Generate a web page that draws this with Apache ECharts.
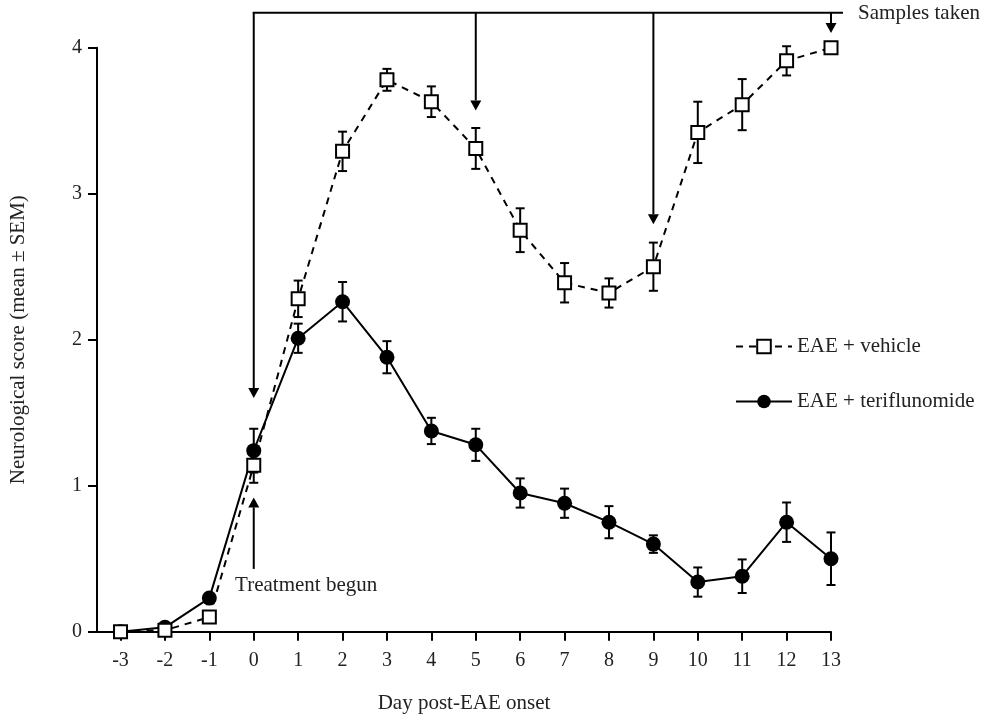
<!DOCTYPE html>
<html>
<head>
<meta charset="utf-8">
<script src="https://cdn.jsdelivr.net/npm/echarts@6/dist/echarts.min.js"></script>
<style>html,body{margin:0;padding:0;background:#fff}#c{width:992px;height:721px}</style>
</head>
<body>
<div id="c"></div>
<script>
// ---- data ----
const days = [-3,-2,-1,0,1,2,3,4,5,6,7,8,9,10,11,12,13];
const vehicleMean = [0, 0.01, 0.10, 1.14, 2.28, 3.29, 3.78, 3.63, 3.31, 2.75, 2.39, 2.32, 2.50, 3.42, 3.61, 3.91, 4.00];
const vehicleSEM  = [0, 0, 0, 0.12, 0.125, 0.135, 0.075, 0.105, 0.14, 0.15, 0.135, 0.10, 0.165, 0.21, 0.175, 0.10, 0];
const teriMean    = [0, 0.03, 0.23, 1.24, 2.01, 2.26, 1.88, 1.375, 1.28, 0.95, 0.88, 0.75, 0.60, 0.34, 0.38, 0.75, 0.50];
const teriSEM     = [0, 0, 0.03, 0.15, 0.10, 0.135, 0.11, 0.09, 0.11, 0.10, 0.10, 0.11, 0.06, 0.10, 0.115, 0.135, 0.18];
const yTicks = [0, 1, 2, 3, 4];
const seriesNames = ['EAE + vehicle', 'EAE + teriflunomide'];
// annotations (data units)
const bracketLevel = 4.24;
const bracketEndDay = 13.27;
const sampleDays = [0, 5, 9, 13];
const sampleArrowTips = [1.6, 3.57, 2.79, 4.1];
const treatmentDay = 0;
const treatmentArrow = [0.43, 0.92];
const samplesLabel = 'Samples taken';
const samplesLabelPos = [13.61, 4.235];
const treatmentLabel = 'Treatment begun';
const treatmentLabelPos = [-0.42, 0.315];

const FONT = '"Liberation Serif", "Times New Roman", serif';
const chart = echarts.init(document.getElementById('c'), null, {renderer: 'canvas'});

function errData(mean, sem) { return days.map((d, i) => [d, mean[i], sem[i]]); }

function renderErr(params, api) {
  const sem = api.value(2);
  if (!(sem > 0)) return null;
  const x = api.value(0), y = api.value(1);
  const top = api.coord([x, y + sem]);
  const bot = api.coord([x, y - sem]);
  const hw = 4.5;
  const st = {stroke: '#000', lineWidth: 2};
  return {type: 'group', children: [
    {type: 'line', shape: {x1: top[0], y1: top[1], x2: bot[0], y2: bot[1]}, style: st},
    {type: 'line', shape: {x1: top[0]-hw, y1: top[1], x2: top[0]+hw, y2: top[1]}, style: st},
    {type: 'line', shape: {x1: bot[0]-hw, y1: bot[1], x2: bot[0]+hw, y2: bot[1]}, style: st}
  ]};
}

const arrowData = sampleDays.map((d, i) => [d, bracketLevel, sampleArrowTips[i]])
  .concat([[treatmentDay, treatmentArrow[0], treatmentArrow[1]]]);

function renderArrow(params, api) {
  const x = api.value(0), y0 = api.value(1), y1 = api.value(2);
  const p0 = api.coord([x, y0]);
  const p1 = api.coord([x, y1]);
  const dir = p1[1] > p0[1] ? 1 : -1;
  const headL = 10, headW = 5.5;
  const baseY = p1[1] - dir * headL;
  return {type: 'group', children: [
    {type: 'line', shape: {x1: p0[0], y1: p0[1], x2: p1[0], y2: baseY}, style: {stroke: '#000', lineWidth: 2}},
    {type: 'polygon', shape: {points: [[p1[0], p1[1]], [p1[0]-headW, baseY], [p1[0]+headW, baseY]]}, style: {fill: '#000'}}
  ]};
}

function renderBracket(params, api) {
  const a = api.coord([api.value(0), api.value(2)]);
  const b = api.coord([api.value(1), api.value(2)]);
  return {type: 'line', shape: {x1: a[0]-1, y1: a[1], x2: b[0], y2: b[1]}, style: {stroke: '#000', lineWidth: 2}};
}

const textData = [
  [samplesLabelPos[0], samplesLabelPos[1], samplesLabel],
  [treatmentLabelPos[0], treatmentLabelPos[1], treatmentLabel]
];
function renderText(params, api) {
  const p = api.coord([api.value(0), api.value(1)]);
  return {type: 'text', x: p[0], y: p[1], style: {
    text: textData[params.dataIndex][2], fill: '#222', font: '21px ' + FONT,
    textAlign: 'left', textVerticalAlign: 'middle'
  }};
}

const option = {
  backgroundColor: '#fff',
  animation: false,
  textStyle: {fontFamily: FONT},
  grid: {left: 91, right: 161, top: 47.7, bottom: 89.3, containLabel: false},
  legend: {
    data: seriesNames,
    orient: 'vertical',
    left: 730, top: 331,
    itemWidth: 56, itemHeight: 17, itemGap: 34,
    textStyle: {fontFamily: FONT, fontSize: 21, color: '#222', padding: [0, 0, 0, 0]},
    selectedMode: false
  },
  xAxis: {
    type: 'value', min: -3.53, max: 13,
    name: 'Day post-EAE onset', nameLocation: 'middle', nameGap: 61,
    nameTextStyle: {fontFamily: FONT, fontSize: 21, color: '#222'},
    axisLine: {onZero: false, lineStyle: {color: '#000', width: 2}},
    axisTick: {show: true, customValues: days, length: 9, lineStyle: {color: '#000', width: 2}},
    axisLabel: {customValues: days, margin: 19, fontFamily: FONT, fontSize: 20, color: '#222'},
    splitLine: {show: false}
  },
  yAxis: {
    type: 'value', min: 0, max: 4, interval: 1,
    name: 'Neurological score (mean \u00b1 SEM)', nameLocation: 'middle', nameGap: 68,
    nameTextStyle: {fontFamily: FONT, fontSize: 21, color: '#222'},
    axisLine: {show: true, onZero: false, lineStyle: {color: '#000', width: 2}},
    axisTick: {show: true, length: 9, lineStyle: {color: '#000', width: 2}},
    axisLabel: {customValues: yTicks, margin: 15, fontFamily: FONT, fontSize: 20, color: '#222'},
    splitLine: {show: false}
  },
  series: [
    {type: 'custom', name: 'vehErr', z: 1, renderItem: renderErr, data: errData(vehicleMean, vehicleSEM), silent: true},
    {type: 'custom', name: 'teriErr', z: 1, renderItem: renderErr, data: errData(teriMean, teriSEM), silent: true},
    {
      type: 'line', name: seriesNames[1], z: 3,
      data: days.map((d, i) => [d, teriMean[i]]),
      symbol: 'circle', symbolSize: 15, showAllSymbol: true,
      lineStyle: {color: '#000', width: 2},
      itemStyle: {color: '#000', borderColor: '#000', borderWidth: 0}
    },
    {
      type: 'line', name: seriesNames[0], z: 4,
      data: days.map((d, i) => [d, vehicleMean[i]]),
      symbol: 'rect', symbolSize: 13, showAllSymbol: true,
      lineStyle: {color: '#000', width: 2, type: [7, 6]},
      itemStyle: {color: '#fff', borderColor: '#000', borderWidth: 2}
    },
    {type: 'custom', name: 'bracket', z: 5, renderItem: renderBracket, data: [[sampleDays[0], bracketEndDay, bracketLevel]], silent: true, clip: false},
    {type: 'custom', name: 'arrows', z: 5, renderItem: renderArrow, data: arrowData, silent: true, clip: false},
    {type: 'custom', name: 'labels', z: 5, renderItem: renderText, data: textData.map(t => [t[0], t[1]]), silent: true, clip: false}
  ]
};
chart.setOption(option);
</script>
</body>
</html>
